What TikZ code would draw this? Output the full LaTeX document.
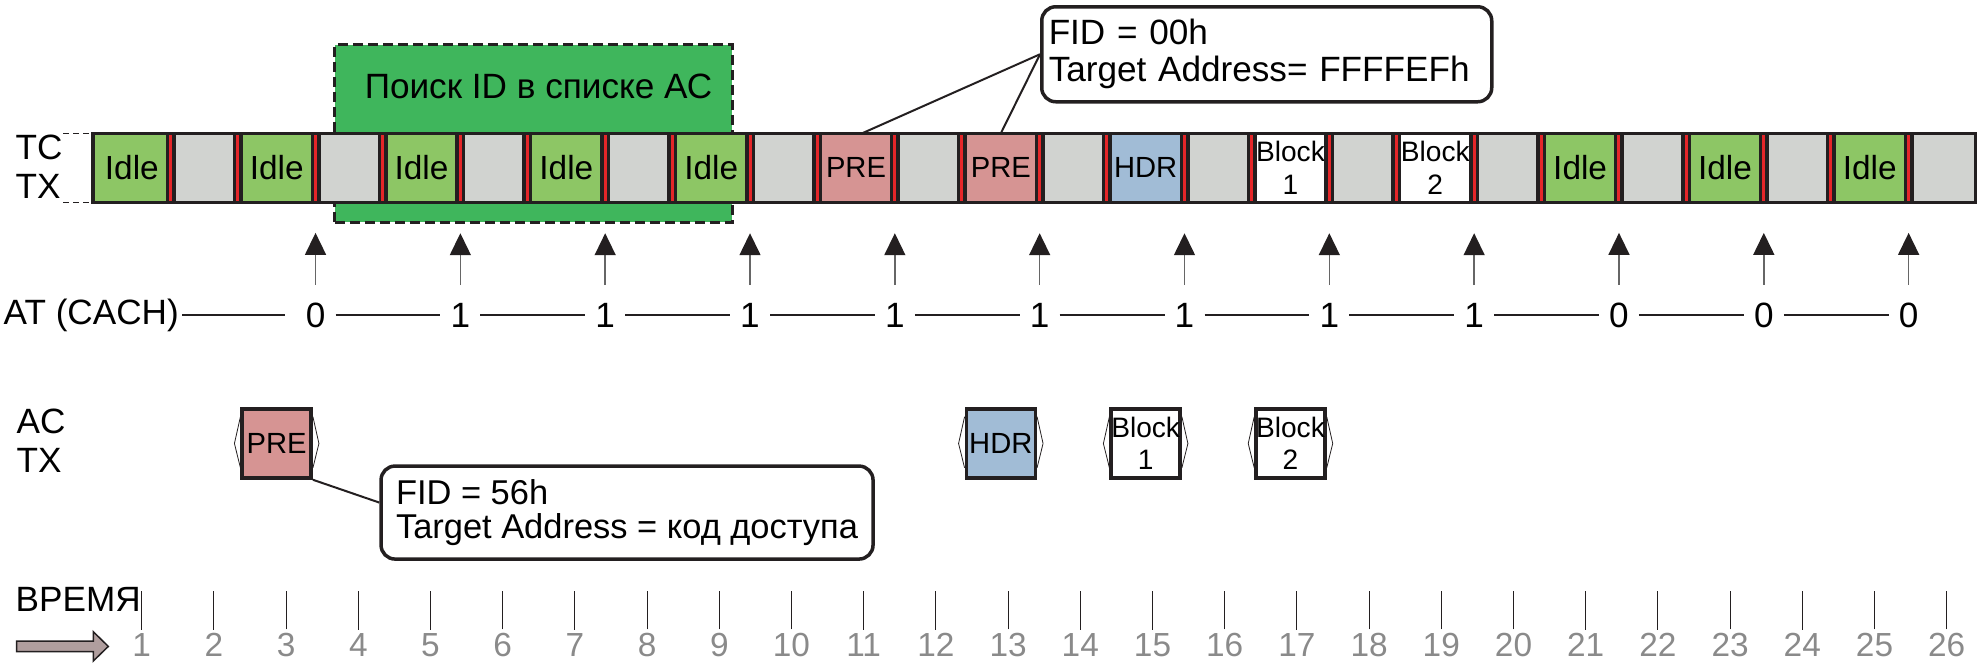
\documentclass[tikz,border=0pt]{standalone}
\usepackage{fontspec}
\setmainfont{Liberation Sans}
\usetikzlibrary{arrows.meta}

\definecolor{idlegreen}{HTML}{8DC665}
\definecolor{slotgray}{HTML}{D1D3D0}
\definecolor{prered}{HTML}{D69493}
\definecolor{hdrblue}{HTML}{A1BCD6}
\definecolor{searchgreen}{HTML}{3FB65C}
\definecolor{divred}{HTML}{E52629}
\definecolor{numgray}{HTML}{8A8A8A}
\definecolor{timefill}{HTML}{B09E9E}
\definecolor{ink}{HTML}{231F20}

\begin{document}
\begin{tikzpicture}[x=0.1mm, y=0.1mm, node distance=7.2415mm,
  slot/.style = {minimum height=6.9mm, inner sep=0pt, outer sep=0pt, align=center, font=\fontsize{8.3}{9.2}\selectfont},
  idle/.style = {slot, fill=idlegreen, minimum width=7.77mm, font=\fontsize{9.5}{10}\selectfont},
  gap/.style = {slot, fill=slotgray, minimum width=6.713mm},
  pre/.style = {slot, fill=prered, minimum width=7.77mm},
  hdr/.style = {slot, fill=hdrblue, minimum width=7.77mm},
  blk/.style = {slot, fill=white, minimum width=7.77mm, font=\fontsize{8}{9.2}\selectfont},
  acbox/.style = {draw=ink, line width=0.35mm, minimum width=6.9mm, minimum height=6.9mm, inner sep=0pt, align=center, font=\fontsize{8.3}{9.2}\selectfont},
  searchbox/.style = {fill=searchgreen, draw=ink, line width=0.33mm, dash pattern=on 1mm off 0.5mm, minimum width=39.77mm, minimum height=17.77mm, inner sep=0pt},
  callout/.style = {draw=ink, line width=0.35mm, rounded corners=1.4mm, align=left, anchor=north west, inner ysep=0pt, font=\fontsize{10}{10.5}\selectfont},
  lbl/.style = {align=left, anchor=west, inner sep=0pt, font=\fontsize{10}{11}\selectfont},
  digit/.style = {inner sep=0pt, font=\fontsize{10}{11}\selectfont},
  num/.style = {inner sep=0pt, text=numgray, font=\fontsize{9.5}{10}\selectfont},
  sync/.style = {draw=black!60, line width=0.15mm, -{Triangle[width=2.1mm, length=2.2mm, color=ink]}},
  atline/.style = {draw=ink, line width=0.2mm},
  callline/.style = {draw=ink, line width=0.2mm},
  bracket/.style = {draw=ink, line width=0.08mm},
  guide/.style = {draw=ink, line width=0.1mm, dash pattern=on 0.55mm off 0.45mm}]
\useasboundingbox (0,0) rectangle (1980,-665);

%search window
\node[searchbox] (search) at (533.5,-133.5) {};
\node[font=\fontsize{10}{12}\selectfont, inner sep=0pt] (searchtxt) at (538.5,-86.6) {Поиск ID в списке АС};

%strip
\node[idle] (s1) at (131.85,-167.85) {Idle};
\node[gap] (s2) [right of=s1] {};
\node[idle] (s3) [right of=s2] {Idle};
\node[gap] (s4) [right of=s3] {};
\node[idle] (s5) [right of=s4] {Idle};
\node[gap] (s6) [right of=s5] {};
\node[idle] (s7) [right of=s6] {Idle};
\node[gap] (s8) [right of=s7] {};
\node[idle] (s9) [right of=s8] {Idle};
\node[gap] (s10) [right of=s9] {};
\node[pre] (s11) [right of=s10] {PRE};
\node[gap] (s12) [right of=s11] {};
\node[pre] (s13) [right of=s12] {PRE};
\node[gap] (s14) [right of=s13] {};
\node[hdr] (s15) [right of=s14] {HDR};
\node[gap] (s16) [right of=s15] {};
\node[blk] (s17) [right of=s16] {Block\\1};
\node[gap] (s18) [right of=s17] {};
\node[blk] (s19) [right of=s18] {Block\\2};
\node[gap] (s20) [right of=s19] {};
\node[idle] (s21) [right of=s20] {Idle};
\node[gap] (s22) [right of=s21] {};
\node[idle] (s23) [right of=s22] {Idle};
\node[gap] (s24) [right of=s23] {};
\node[idle] (s25) [right of=s24] {Idle};
\node[gap] (s26) [right of=s25] {};

\foreach \i in {1,...,25} {
  \draw[ink, line width=1mm] (s\i.north east) -- (s\i.south east);
  \draw[divred, line width=0.3mm] (s\i.north east) -- (s\i.south east);
}
\draw[ink, line width=0.33mm] (s1.north west) rectangle (s26.south east);

%labels
\node[lbl] (tctx) at (15,-167) {TC\\TX};
\draw[guide] (tctx.east |- s1.north) -- (s1.north west);
\draw[guide] (tctx.east |- s1.south) -- (s1.south west);
\node[lbl] (atlbl) at (3,-315) {AT (CACH)};
\node[lbl] (actx) at (16,-441) {AC\\TX};

%tc callout
\node[callout, text width=43.6mm, inner xsep=0.7mm, minimum height=9.5mm] (fidtc) at (1040,-5) {FID = 00h\\Target Address= FFFFEFh};
\draw[callline] ([xshift=0.6mm]s11.north) -- (fidtc.west);
\draw[callline] (s13.north) -- (fidtc.west);

%sync arrows and AT
\coordinate (atrow) at (0,-315);
\foreach \k/\v [evaluate=\k as \i using int(2*\k+1)] in {1/0,2/1,3/1,4/1,5/1,6/1,7/1,8/1,9/1,10/0,11/0,12/0} {
  \node[digit] (a\k) at (s\i.east |- atrow) {\v};
  \draw[sync] ([yshift=1.7mm]a\k.north) -- ++(0,52);
}
\draw[atline] ([xshift=0.3mm]atlbl.east) -- ([xshift=-3.1mm]a1.center);
\foreach \k [evaluate=\k as \j using int(\k+1)] in {1,...,11}
  \draw[atline] ([xshift=2mm]a\k.center) -- ([xshift=-2mm]a\j.center);

%ac tx
\coordinate (acrow) at (0,-443.5);
\node[acbox, fill=prered] (acpre) at (s3 |- acrow) {PRE};
\node[acbox, fill=hdrblue] (achdr) at (s13 |- acrow) {HDR};
\node[acbox, fill=white, font=\fontsize{8}{9.2}\selectfont] (acblk1) at (s15 |- acrow) {Block\\1};
\node[acbox, fill=white, font=\fontsize{8}{9.2}\selectfont] (acblk2) at (s17 |- acrow) {Block\\2};
\foreach \n in {acpre,achdr,acblk1,acblk2} {
  \draw[bracket] ([yshift=-0.95mm]\n.north west) -- ([xshift=-0.6mm]\n.west) -- ([yshift=1.2mm]\n.south west);
  \draw[bracket] ([yshift=-0.95mm]\n.north east) -- ([xshift=0.6mm]\n.east) -- ([yshift=1.2mm]\n.south east);
}

%ac callout
\node[callout, minimum width=49.2mm, inner xsep=0.5mm, minimum height=9.3mm, font=\fontsize{9.8}{9.5}\selectfont] (fidac) at (379.3,-464.3) {FID = 56h\\Target Address = код доступа};
\draw[callline] (acpre.south east) -- ([yshift=1mm]fidac.west);

%time axis
\node[lbl] (time) at (15,-599.2) {ВРЕМЯ};
\foreach \t in {1,...,26} {
  \node[num] (n\t) at ({141.7+72.2*(\t-1)},-644.85) {\t};
  \draw[ink, line width=0.1mm] ([yshift=0.3mm]n\t.north) -- ++(0,38.3);
}
\draw[ink, fill=timefill, line width=0.15mm] (16.7,-641) -- (93.3,-641) -- (93.3,-631.7) -- (108.3,-646.4)
  -- (93.3,-661) -- (93.3,-651.7) -- (16.7,-651.7) -- cycle;
\end{tikzpicture}
\end{document}
